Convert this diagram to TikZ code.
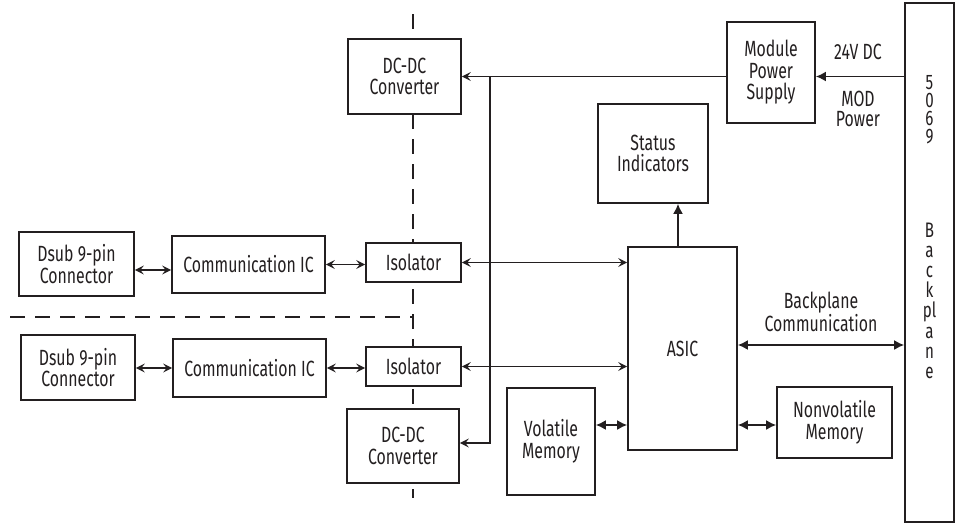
\documentclass[tikz,border=0pt]{standalone}
\usepackage{fontspec}
\setmainfont[FakeStretch=0.72]{Fira Sans}
\usetikzlibrary{arrows.meta}
\definecolor{ink}{HTML}{231F20}
\tikzset{
  blk/.style={draw=ink, line width=1.7pt, fill=white, rectangle, inner sep=0pt, align=center, text=ink,
     font=\fontsize{22}{21.5}\selectfont},
  lbl/.style={align=center, text=ink, inner sep=0pt, font=\fontsize{22}{20}\selectfont},
  chr/.style={text=ink, inner sep=0pt, text height=12pt, text depth=0pt, font=\fontsize{21}{20}\selectfont},
  con/.style={draw=ink, line width=1.7pt},
  thin/.style={con, arrows={-Stealth[length=9pt,width=9pt,inset=3.5pt]}},
  thinboth/.style={con, arrows={Stealth[length=9pt,width=9pt,inset=3.5pt]-Stealth[length=9pt,width=9pt,inset=3.5pt]}},
  bold/.style={con, arrows={-Latex[length=10pt,width=10pt]}},
  boldboth/.style={con, arrows={Latex[length=10pt,width=10pt]-Latex[length=10pt,width=10pt]}},
  sep/.style={draw=ink, line width=1.7pt, dash pattern=on 15pt off 10pt}
}
\begin{document}
\begin{tikzpicture}[x=1pt,y=-1pt]
\useasboundingbox (0,0) rectangle (956,523);
% separators
\draw[sep] (413,14) -- (413,498);
\draw[sep] (10,317) -- (413,317);
% blocks
\node[blk, minimum width=113pt, minimum height=75pt] (dcTop) at (404.5,76.5) {DC-DC\\Converter};
\node[blk, minimum width=112pt, minimum height=74pt] (dcBot) at (403,446) {DC-DC\\Converter};
\node[blk, minimum width=88pt, minimum height=101pt] (mps) at (771,72.5) {Module\\Power\\Supply};
\node[blk, minimum width=110pt, minimum height=99pt] (status) at (653,153.5) {Status\\Indicators};
\node[blk, minimum width=109pt, minimum height=203pt] (asic) at (682.5,348.5) {ASIC};
\node[blk, minimum width=88pt, minimum height=107pt] (vol) at (551,441.5) {Volatile\\Memory};
\node[blk, minimum width=115pt, minimum height=71pt] (nonvol) at (834.5,422.5) {Nonvolatile\\Memory};
\node[blk, minimum width=49pt, minimum height=519pt] (bp) at (929.5,262.5) {};
\node[blk, minimum width=115pt, minimum height=64pt] (dsubA) at (76.5,264) {Dsub 9-pin\\Connector};
\node[blk, minimum width=153pt, minimum height=57pt] (commA) at (248.5,264.5) {Communication IC};
\node[blk, minimum width=95pt, minimum height=39pt] (isoA) at (413.5,262.5) {Isolator};
\node[blk, minimum width=114pt, minimum height=65pt] (dsubB) at (78,367.5) {Dsub 9-pin\\Connector};
\node[blk, minimum width=153pt, minimum height=58pt] (commB) at (249.5,368) {Communication IC};
\node[blk, minimum width=95pt, minimum height=39pt] (isoB) at (413.5,366.5) {Isolator};
% backplane text (one character per line)
\foreach \c [count=\i] in {5,0,6,9}
  \node[chr, anchor=base] (bpn\i) at (929.5, 89+18.3*\i-18.3) {\c};
\foreach \c [count=\i] in {B,a,c,k,pl,a,n,e}
  \node[chr, anchor=base] (bpl\i) at (929.5, 237+20.2*\i-20.2) {\c};
% labels
\node[lbl] (v24) at (858,52) {24V DC};
\node[lbl] (modp) at (858,109) {MOD\\Power};
\node[lbl] (bpc) at (821,312) {Backplane\\Communication};
% coordinates
\coordinate (j1) at (490,76.5);
\coordinate (y270) at (0,270);
\coordinate (y345) at (0,345);
\coordinate (y425) at (0,425);
% connectors
\draw[bold] (bp.west |- j1) -- (mps.east |- j1);
\draw[thin] (mps.west |- j1) -- (dcTop.east);
\draw[thin] (j1) |- ([yshift=3pt]dcBot.east);
\draw[bold] (asic.north) ++(-4.5,0) coordinate (an) -- (an |- status.south);
\draw[thinboth] (dsubA.east |- y270) -- (commA.west |- y270);
\draw[thinboth] (commA.east) -- (isoA.west |- commA.east);
\draw[thinboth] (isoA.east) -- (asic.west |- isoA.east);
\draw[thinboth] (dsubB.east |- commB.west) -- (commB.west);
\draw[thinboth] (commB.east) -- (isoB.west |- commB.east);
\draw[thinboth] (isoB.east) -- (asic.west |- isoB.east);
\draw[boldboth] (asic.east |- y345) -- (bp.west |- y345);
\draw[boldboth] (vol.east |- y425) -- (asic.west |- y425);
\draw[boldboth] (asic.east |- y425) -- (nonvol.west |- y425);
\end{tikzpicture}
\end{document}
